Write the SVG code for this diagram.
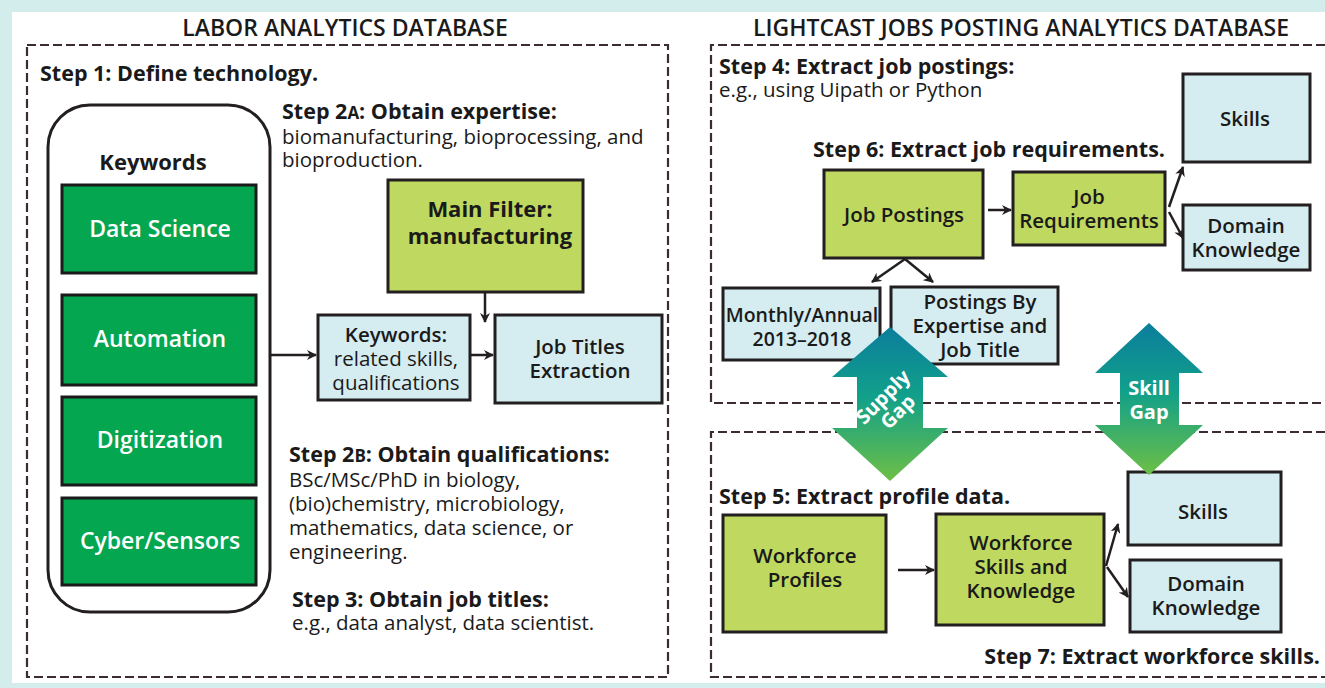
<svg xmlns="http://www.w3.org/2000/svg" width="1325" height="688" viewBox="0 0 1325 688">
  <defs>
    <style>
      text { font-family: "Open Sans", "Liberation Sans", sans-serif; fill: #1a1a1a; }
      .hdr { font-size: 23px; font-weight: 600; text-anchor: middle; }
      .step { font-size: 21.5px; font-weight: 700; }
      .body { font-size: 20.5px; font-weight: 400; }
      .lbl { font-size: 20.5px; font-weight: 600; text-anchor: middle; }
      .lbl-big { font-size: 22px; font-weight: 700; text-anchor: middle; }
      .lbl-sm { font-size: 19.5px; font-weight: 600; text-anchor: middle; }
      .lblw { font-size: 23px; font-weight: 600; text-anchor: middle; fill: #ffffff; }
      .gap { font-size: 20px; font-weight: 700; text-anchor: middle; fill: #ffffff; }
      .sc { font-size: 17px; }
      .panel { fill: none; stroke: #3b2b33; stroke-width: 2.2; stroke-dasharray: 9 4; }
      .blue { fill: #d5ecf0; stroke: #231f20; stroke-width: 3; }
      .lime { fill: #bfd85f; stroke: #231f20; stroke-width: 3; }
      .green { fill: #05a650; stroke: #1a1a1a; stroke-width: 3; }
      .conn { fill: none; stroke: #231f20; stroke-width: 2.5; }
    </style>
    <marker id="ah" viewBox="0 0 10 10" refX="9" refY="5" markerWidth="4" markerHeight="4" orient="auto" markerUnits="strokeWidth">
      <path d="M0,0 L10,5 L0,10 L3,5 Z" fill="#231f20"/>
    </marker>
    <linearGradient id="gapFill" x1="0" y1="0" x2="0" y2="1">
      <stop offset="0" stop-color="#0b7e9c"/>
      <stop offset="0.45" stop-color="#11a08a"/>
      <stop offset="1" stop-color="#6dbf45"/>
    </linearGradient>
  </defs>

  <!-- page background and sheet -->
  <rect x="0" y="0" width="1325" height="688" fill="#d3ecec"/>
  <rect x="12" y="12" width="1313" height="671" fill="#ffffff"/>

  <!-- section headers -->
  <text class="hdr" x="345" y="36">LABOR ANALYTICS DATABASE</text>
  <text class="hdr" x="1021" y="36">LIGHTCAST JOBS POSTING ANALYTICS DATABASE</text>

  <!-- dashed panels -->
  <rect class="panel" x="27" y="45" width="641" height="632"/>
  <path class="panel" d="M1325,45 H711 V403 H1325"/>
  <path class="panel" d="M1325,432 H711 V677 H1325"/>

  <!-- left panel step texts -->
  <text class="step" x="40" y="81">Step 1: Define technology.</text>
  <text class="step" x="282" y="119">Step 2<tspan class="sc">A</tspan>: Obtain expertise:</text>
  <text class="body" x="282" y="144">biomanufacturing, bioprocessing, and</text>
  <text class="body" x="282" y="167">bioproduction.</text>
  <text class="step" x="289" y="462">Step 2<tspan class="sc">B</tspan>: Obtain qualifications:</text>
  <text class="body" x="289" y="487">BSc/MSc/PhD in biology,</text>
  <text class="body" x="289" y="511">(bio)chemistry, microbiology,</text>
  <text class="body" x="289" y="535">mathematics, data science, or</text>
  <text class="body" x="289" y="559">engineering.</text>
  <text class="step" x="292" y="607">Step 3: Obtain job titles:</text>
  <text class="body" x="292" y="630">e.g., data analyst, data scientist.</text>

  <!-- keywords container -->
  <g id="keywords">
    <rect x="48" y="105" width="222" height="507" rx="42" ry="42" fill="#ffffff" stroke="#231f20" stroke-width="3"/>
    <text class="lbl-big" x="153" y="170">Keywords</text>
  </g>
  <g id="kw-data-science">
    <rect class="green" x="62" y="185" width="194" height="88"/>
    <text class="lblw" x="160" y="237">Data Science</text>
  </g>
  <g id="kw-automation">
    <rect class="green" x="62" y="295" width="194" height="90"/>
    <text class="lblw" x="160" y="347">Automation</text>
  </g>
  <g id="kw-digitization">
    <rect class="green" x="62" y="397" width="194" height="88"/>
    <text class="lblw" x="160" y="448">Digitization</text>
  </g>
  <g id="kw-cyber">
    <rect class="green" x="62" y="498" width="194" height="87"/>
    <text class="lblw" x="160" y="549">Cyber/Sensors</text>
  </g>

  <g id="main-filter">
    <rect class="lime" x="388" y="180" width="195" height="112"/>
    <text class="lbl-big" x="490" y="217">Main Filter:</text>
    <text class="lbl-big" x="490" y="244">manufacturing</text>
  </g>
  <g id="kw-related">
    <rect class="blue" x="318" y="315" width="152" height="85"/>
    <text class="lbl" x="396" y="342" font-weight="700">Keywords:</text>
    <text class="body" x="396" y="366" text-anchor="middle">related skills,</text>
    <text class="body" x="396" y="390" text-anchor="middle">qualifications</text>
  </g>
  <g id="job-titles">
    <rect class="blue" x="495" y="315" width="167" height="88"/>
    <text class="lbl" x="580" y="354">Job Titles</text>
    <text class="lbl" x="580" y="378">Extraction</text>
  </g>

  <!-- right top panel -->
  <text class="step" x="719" y="74">Step 4: Extract job postings:</text>
  <text class="body" x="719" y="97">e.g., using Uipath or Python</text>
  <text class="step" x="813" y="157">Step 6: Extract job requirements.</text>

  <g id="job-postings">
    <rect class="lime" x="824" y="170" width="159" height="88"/>
    <text class="lbl" x="904" y="222">Job Postings</text>
  </g>
  <g id="job-requirements">
    <rect class="lime" x="1013" y="172" width="152" height="73"/>
    <text class="lbl" x="1089" y="204">Job</text>
    <text class="lbl" x="1089" y="228">Requirements</text>
  </g>
  <g id="jp-skills">
    <rect class="blue" x="1183" y="74" width="127" height="88"/>
    <text class="lbl" x="1245" y="126">Skills</text>
  </g>
  <g id="jp-domain">
    <rect class="blue" x="1183" y="205" width="127" height="65"/>
    <text class="lbl" x="1246" y="233">Domain</text>
    <text class="lbl" x="1246" y="257">Knowledge</text>
  </g>
  <g id="monthly">
    <rect class="blue" x="723" y="288" width="157" height="72"/>
    <text class="lbl-sm" x="802" y="322">Monthly/Annual</text>
    <text class="lbl-sm" x="802" y="346">2013–2018</text>
  </g>
  <g id="postings-by">
    <rect class="blue" x="891" y="287" width="167" height="77"/>
    <text class="lbl" x="980" y="309">Postings By</text>
    <text class="lbl" x="980" y="333">Expertise and</text>
    <text class="lbl" x="980" y="357">Job Title</text>
  </g>

  <!-- right bottom panel -->
  <text class="step" x="719" y="504">Step 5: Extract profile data.</text>
  <text class="step" x="1320" y="664" text-anchor="end">Step 7: Extract workforce skills.</text>

  <g id="workforce-profiles">
    <rect class="lime" x="723" y="515" width="163" height="117"/>
    <text class="lbl" x="805" y="563">Workforce</text>
    <text class="lbl" x="805" y="587">Profiles</text>
  </g>
  <g id="workforce-skills">
    <rect class="lime" x="936" y="514" width="168" height="111"/>
    <text class="lbl" x="1021" y="550">Workforce</text>
    <text class="lbl" x="1021" y="574">Skills and</text>
    <text class="lbl" x="1021" y="598">Knowledge</text>
  </g>
  <g id="wf-skills">
    <rect class="blue" x="1128" y="472" width="153" height="73"/>
    <text class="lbl" x="1203" y="519">Skills</text>
  </g>
  <g id="wf-domain">
    <rect class="blue" x="1130" y="560" width="151" height="72"/>
    <text class="lbl" x="1206" y="591">Domain</text>
    <text class="lbl" x="1206" y="615">Knowledge</text>
  </g>

  <!-- connectors -->
  <g id="connectors">
    <line class="conn" x1="270" y1="355" x2="316" y2="355" marker-end="url(#ah)"/>
    <line class="conn" x1="470" y1="355" x2="493" y2="355" marker-end="url(#ah)"/>
    <line class="conn" x1="485" y1="292" x2="485" y2="322" marker-end="url(#ah)"/>
    <line class="conn" x1="988" y1="210" x2="1011" y2="210" marker-end="url(#ah)"/>
    <line class="conn" x1="1169" y1="207" x2="1183" y2="167" marker-end="url(#ah)"/>
    <line class="conn" x1="1169" y1="212" x2="1183" y2="238" marker-end="url(#ah)"/>
    <line class="conn" x1="905" y1="259" x2="872" y2="282" marker-end="url(#ah)"/>
    <line class="conn" x1="905" y1="259" x2="933" y2="282" marker-end="url(#ah)"/>
    <line class="conn" x1="898" y1="570" x2="934" y2="570" marker-end="url(#ah)"/>
    <line class="conn" x1="1106" y1="566" x2="1118" y2="524" marker-end="url(#ah)"/>
    <line class="conn" x1="1107" y1="567" x2="1128" y2="597" marker-end="url(#ah)"/>
  </g>

  <!-- gap arrows -->
  <g id="supply-gap">
    <path d="M890,327 L948,377 L923,377 L923,428 L948,428 L890,481 L832,428 L857,428 L857,377 L832,377 Z" fill="url(#gapFill)"/>
    <g transform="translate(890,404) rotate(-45)">
      <text class="gap" x="0" y="-3">Supply</text>
      <text class="gap" x="0" y="18">Gap</text>
    </g>
  </g>
  <g id="skill-gap">
    <path d="M1149,323 L1203,373 L1179,373 L1179,425 L1203,425 L1149,475 L1095,425 L1120,425 L1120,373 L1095,373 Z" fill="url(#gapFill)"/>
    <text class="gap" x="1149" y="395">Skill</text>
    <text class="gap" x="1149" y="419">Gap</text>
  </g>
</svg>
